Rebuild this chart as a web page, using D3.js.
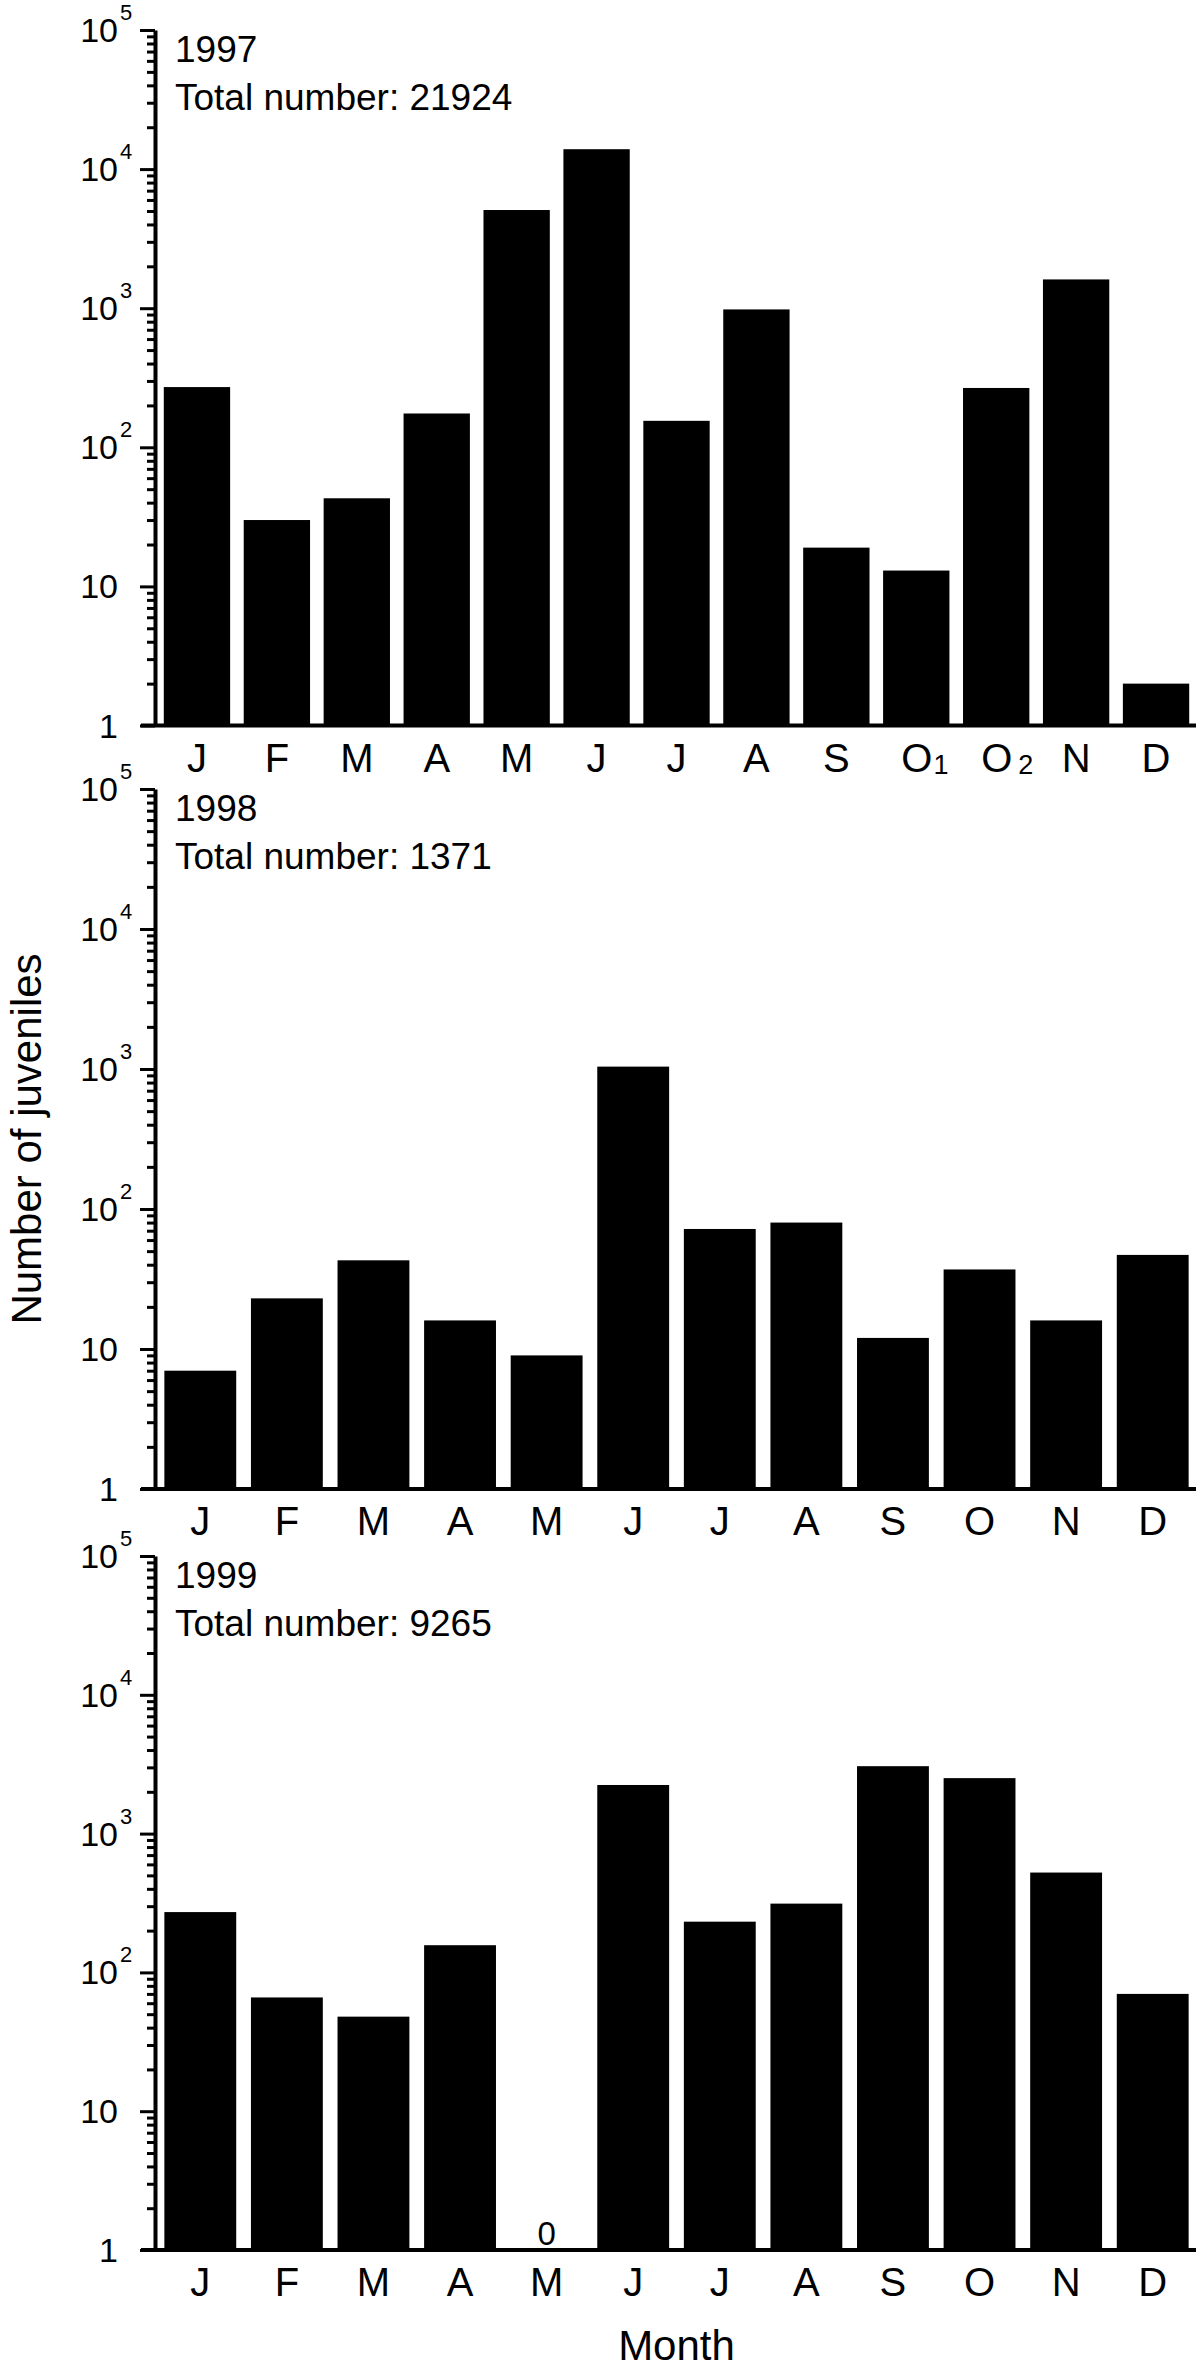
<!DOCTYPE html>
<html>
<head>
<meta charset="utf-8">
<script src="https://cdn.jsdelivr.net/npm/d3@7"></script>
<style>
  body { margin: 0; background: #fff; }
  text { font-family: "Liberation Sans", Arial, Helvetica, sans-serif; fill: #000; }
</style>
</head>
<body>
<div id="chart"></div>
<script>
const years = ['1997', '1998', '1999']
const totals = [21924, 1371, 9265]

const months1997 = ['J', 'F', 'M', 'A', 'M', 'J', 'J', 'A', 'S', 'O1', 'O2', 'N', 'D']
const counts1997 = [271, 30, 43, 175, 5080, 13900, 155, 980, 19, 13, 267, 1610, 2]

const months = ['J', 'F', 'M', 'A', 'M', 'J', 'J', 'A', 'S', 'O', 'N', 'D']
const counts1998 = [7, 23, 43, 16, 9, 1040, 72, 80, 12, 37, 16, 47]
const counts1999 = [272, 66, 48, 157, 0, 2240, 232, 313, 3060, 2510, 524, 70]

const majorTicks = [1, 10, 100, 1000, 10000, 100000]

const width = 1200
const height = 2373
const left = 157
const right = 1196

const panels = [
    { year: years[0], total: totals[0], labels: months1997, values: counts1997, top: 30, bottom: 725.5 },
    { year: years[1], total: totals[1], labels: months, values: counts1998, top: 789, bottom: 1489 },
    { year: years[2], total: totals[2], labels: months, values: counts1999, top: 1556, bottom: 2250 }
]

const svg = d3.select('#chart').append('svg')
    .attr('width', width).attr('height', height)

svg.append('rect').attr('width', width).attr('height', height).attr('fill', '#fff')

panels.forEach((p) => {
    const g = svg.append('g')

    const x = d3.scaleBand()
        .domain(d3.range(p.labels.length))
        .range([left, right])
        .paddingInner(0.17)
        .paddingOuter(0.085)

    const y = d3.scaleLog()
        .domain([1, 100000])
        .range([p.bottom, p.top])

    // bars (zero counts get a "0" label instead)
    g.selectAll('.bar').data(p.values.map((v, i) => ({ v, i })).filter(d => d.v > 0))
        .enter().append('rect')
        .attr('class', 'bar')
        .attr('x', d => x(d.i))
        .attr('width', x.bandwidth())
        .attr('y', d => y(d.v))
        .attr('height', d => y(1) - y(d.v))
        .attr('fill', '#000')

    g.selectAll('.zero').data(p.values.map((v, i) => ({ v, i })).filter(d => d.v === 0))
        .enter().append('text')
        .attr('class', 'zero')
        .attr('x', d => x(d.i) + x.bandwidth() / 2)
        .attr('y', y(1) - 5)
        .attr('text-anchor', 'middle')
        .attr('font-size', 33)
        .text('0')

    // y axis: major and minor ticks
    const minorTicks = y.ticks().filter(t => !majorTicks.includes(t))

    const yMinor = g.append('g')
        .attr('transform', `translate(${left - 2},0)`)
        .call(d3.axisLeft(y).tickValues(minorTicks).tickSize(8).tickSizeOuter(0).tickFormat(''))
    yMinor.selectAll('.tick line').attr('stroke', '#000').attr('stroke-width', 3)
    yMinor.select('.domain').remove()

    const yMajor = g.append('g')
        .attr('transform', `translate(${left - 2},0)`)
        .call(d3.axisLeft(y).tickValues(majorTicks).tickSize(15).tickSizeOuter(0).tickFormat(''))
    yMajor.selectAll('.tick line').attr('stroke', '#000').attr('stroke-width', 3)
    yMajor.select('.domain').attr('stroke', '#000').attr('stroke-width', 4)

    majorTicks.forEach(t => {
        const exp = Math.round(Math.log10(t))
        g.append('text')
            .attr('x', 118)
            .attr('y', y(t) + 12)
            .attr('text-anchor', 'end')
            .attr('font-size', 34)
            .text(exp < 2 ? String(t) : '10')
        if (exp >= 2) {
            g.append('text')
                .attr('x', 120)
                .attr('y', y(t) - 10)
                .attr('font-size', 22)
                .text(exp)
        }
    })

    // x baseline
    g.append('line')
        .attr('x1', left - 16).attr('x2', right)
        .attr('y1', y(1)).attr('y2', y(1))
        .attr('stroke', '#000').attr('stroke-width', 4)

    // month labels, a trailing digit becomes a subscript
    p.labels.forEach((m, i) => {
        const cx = x(i) + x.bandwidth() / 2
        const main = m[0]
        const sub = m.slice(1)
        const t = g.append('text')
            .attr('y', y(1) + 46)
            .attr('font-size', 40)
            .attr('text-anchor', sub ? 'start' : 'middle')
            .attr('x', sub ? cx - 15 : cx)
        t.append('tspan').text(main)
        if (sub) {
            t.append('tspan')
                .attr('dx', sub === '2' ? 6 : 1)
                .attr('dy', 2)
                .attr('font-size', 27)
                .text(sub)
        }
    })

    // year and total
    g.append('text')
        .attr('x', 175).attr('y', p.top + 32)
        .attr('font-size', 37)
        .text(p.year)
    g.append('text')
        .attr('x', 175).attr('y', p.top + 80)
        .attr('font-size', 37)
        .text('Total number: ' + p.total)
})

svg.append('text')
    .attr('transform', `translate(41,1139) rotate(-90)`)
    .attr('text-anchor', 'middle')
    .attr('font-size', 42)
    .text('Number of juveniles')

svg.append('text')
    .attr('x', (left + right) / 2)
    .attr('y', 2360)
    .attr('text-anchor', 'middle')
    .attr('font-size', 42)
    .text('Month')
</script>
</body>
</html>
